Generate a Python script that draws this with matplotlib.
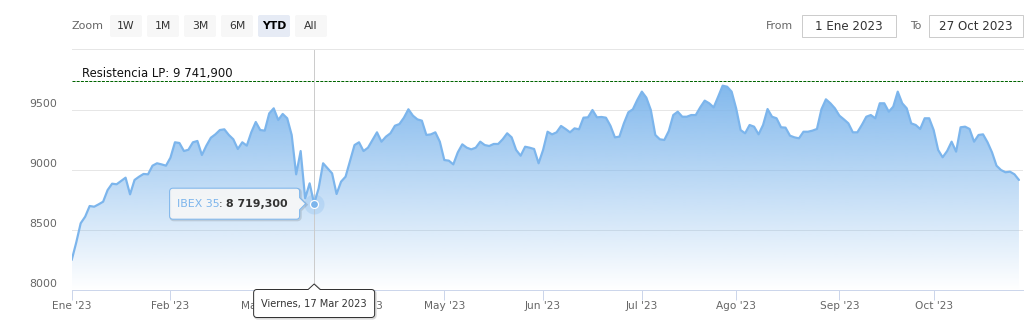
import numpy as np
import pandas as pd
import matplotlib
matplotlib.use("Agg")
import matplotlib.pyplot as plt
from matplotlib.patches import Polygon, FancyBboxPatch

# ---------------- data ----------------
series_name = "IBEX 35"
start_date, end_date = "2023-01-02", "2023-10-27"
market_holidays = ["2023-04-07", "2023-04-10", "2023-05-01"]

close_values = [
    # Jan
    8250, 8394, 8556, 8611, 8700, 8694, 8714, 8736, 8833, 8886, 8881, 8908,
    8936, 8797, 8917, 8944, 8967, 8964, 9036, 9056, 9047, 9036,
    # Feb
    9103, 9231, 9225, 9158, 9169, 9231, 9242, 9125, 9203, 9269, 9297, 9333,
    9339, 9292, 9256, 9175, 9231, 9203, 9314, 9400,
    # Mar
    9333, 9328, 9472, 9514, 9417, 9467, 9431, 9292, 8964, 9158, 8764, 8889,
    8719.3, 8847, 9056, 9014, 8972, 8800, 8903, 8944, 9075, 9208, 9231,
    # Apr
    9158, 9186, 9250, 9314, 9236, 9278, 9306, 9369, 9383, 9436, 9506, 9453,
    9422, 9411, 9292, 9297, 9314, 9236,
    # May
    9083, 9078, 9047, 9147, 9214, 9186, 9172, 9186, 9236, 9208, 9200, 9217,
    9217, 9256, 9306, 9272, 9167, 9119, 9194, 9186, 9175, 9056,
    # Jun
    9167, 9319, 9297, 9314, 9367, 9342, 9314, 9347, 9339, 9436, 9439, 9500,
    9439, 9442, 9436, 9369, 9272, 9278, 9389, 9481, 9506, 9585,
    # Jul
    9653, 9603, 9500, 9292, 9256, 9250, 9325, 9458, 9486, 9444, 9444, 9458,
    9458, 9522, 9578, 9556, 9522, 9611, 9703, 9694, 9653,
    # Aug
    9514, 9333, 9306, 9375, 9361, 9297, 9375, 9508, 9444, 9431, 9356, 9353,
    9286, 9272, 9264, 9319, 9319, 9328, 9342, 9506, 9589, 9556, 9514,
    # Sep
    9453, 9422, 9389, 9314, 9314, 9375, 9444, 9458, 9431, 9556, 9556, 9486,
    9528, 9653, 9556, 9514, 9389, 9375, 9342, 9431, 9431,
    # Oct
    9333, 9167, 9106, 9158, 9236, 9153, 9356, 9361, 9342, 9236, 9292, 9297,
    9231, 9147, 9036, 9000, 8981, 8986, 8964, 8917,
]

month_labels = ["Ene '23", "Feb '23", "Mar '23", "Abr '23", "May '23",
                "Jun '23", "Jul '23", "Ago '23", "Sep '23", "Oct '23"]
y_ticks = [8000, 8500, 9000, 9500]
y_range = (8000, 10000)

resistance_label = "Resistencia LP"
resistance_value = 9741.9

hover_date = "2023-03-17"
hover_date_label = "Viernes, 17 Mar 2023"

range_buttons = ["1W", "1M", "3M", "6M", "YTD", "All"]
selected_button = "YTD"
from_text, to_text = "1 Ene 2023", "27 Oct 2023"

# ---------------- helpers ----------------
W, H = 1032, 328
PT = 0.72  # points per pixel at dpi 100
SERIES_COLOR = "#7cb5ec"


def es_num(v):
    s = f"{v:,.3f}"
    return s.replace(",", " ").replace(".", ",")


def callout(x0, y0, x1, y1, r=3, arrow=None, n=5):
    """pixel coords (y down). arrow=('right', ay, tipx) or ('top', axp, tipy)"""
    pts = []

    def arc(cx, cy, a0, a1):
        for a in np.linspace(a0, a1, n):
            pts.append((cx + r * np.cos(a), cy + r * np.sin(a)))

    # top edge (left to right)
    arc(x0 + r, y0 + r, np.pi, 1.5 * np.pi)
    if arrow and arrow[0] == "top":
        pts += [(arrow[1] - 6, y0), (arrow[1], arrow[2]), (arrow[1] + 6, y0)]
    arc(x1 - r, y0 + r, 1.5 * np.pi, 2 * np.pi)
    if arrow and arrow[0] == "right":
        pts += [(x1, arrow[1] - 6), (arrow[2], arrow[1]), (x1, arrow[1] + 6)]
    arc(x1 - r, y1 - r, 0, 0.5 * np.pi)
    arc(x0 + r, y1 - r, 0.5 * np.pi, np.pi)
    return pts


# ---------------- figure ----------------
plt.rcParams["font.family"] = ["DejaVu Sans"]
fig = plt.figure(figsize=(W / 100, H / 100), dpi=100)
fig.patch.set_facecolor("white")

PL, PR, PT_, PB = 71.7, 1023.0, 50.0, 290.0
ax = fig.add_axes([PL / W, 1 - PB / H, (PR - PL) / W, (PB - PT_) / H])
ov = fig.add_axes([0, 0, 1, 1], zorder=5)
ov.set_xlim(0, W)
ov.set_ylim(H, 0)
ov.axis("off")
ov.patch.set_alpha(0)

dates = pd.bdate_range(start_date, end_date, freq="C", holidays=market_holidays)
values = np.array(close_values, dtype=float)
n = len(values)
idx = np.arange(n)
dates = dates[:n]

ax.set_xlim(0, 211.9)
ax.set_ylim(*y_range)
for s in ["top", "left", "right"]:
    ax.spines[s].set_visible(False)
ax.spines["bottom"].set_color("#ccd6eb")
ax.spines["bottom"].set_linewidth(PT)
ax.set_yticks([])

# grid lines
for yt in y_ticks[1:]:
    ax.axhline(yt, color="#e6e6e6", lw=PT, zorder=0.5)

# area with gradient
poly = ax.fill_between(idx, values, y_range[0], color="none", lw=0)
top_v = values.max()
N = 256
alpha = np.linspace(0.0, 1.0, N)
grad = np.zeros((N, 1, 4))
grad[:, 0, 0] = 124 / 255
grad[:, 0, 1] = 181 / 255
grad[:, 0, 2] = 236 / 255
grad[:, 0, 3] = alpha * 0.95
img = ax.imshow(grad, extent=[0, n - 1, y_range[0], top_v], origin="lower",
                aspect="auto", zorder=1, interpolation="bilinear")
img.set_clip_path(poly.get_paths()[0], ax.transData)
ax.set_xlim(0, 211.9)
ax.set_ylim(*y_range)

ax.plot(idx, values, color=SERIES_COLOR, lw=2.2 * PT, zorder=3,
        solid_joinstyle="round", solid_capstyle="round")

# resistance line
ax.axhline(resistance_value, color="#006400", lw=1.0 * PT, ls=(0, (3, 1.2)), zorder=2)

# x ticks at first trading day of each month
month_first = [int(np.where(dates.month == m)[0][0]) for m in sorted(set(dates.month))]
ax.set_xticks(month_first)
ax.set_xticklabels(month_labels[:len(month_first)])
ax.tick_params(axis="x", length=10 * PT, width=PT, color="#ccd6eb",
               labelsize=7.6, labelcolor="#666666", pad=1.0)

# hover point
hi = int(np.where(dates == pd.Timestamp(hover_date))[0][0])
hv = values[hi]
ax.axvline(hi, color="#cccccc", lw=PT, zorder=2.5)
ax.plot([hi], [hv], "o", ms=20 * PT, color=SERIES_COLOR, alpha=0.25, mew=0, zorder=4)
ax.plot([hi], [hv], "o", ms=8 * PT, mfc=SERIES_COLOR, mec="white", mew=1.2 * PT, zorder=5)

# ---------------- overlay (pixel coords) ----------------
def to_px(x, y):
    d = ax.transData.transform((x, y))
    return d[0], H - d[1]

# y tick labels
for yt in y_ticks:
    _, py = to_px(0, yt)
    ov.text(57, py - 6, str(yt), ha="right", va="center", fontsize=7.9, color="#666666")

# resistance label
_, ry = to_px(0, resistance_value)
ov.text(82, ry - 7.5, f"{resistance_label}: {es_num(resistance_value)}",
        ha="left", va="center", fontsize=8.4, color="#111111")

# top controls
ov.text(72, 26, "Zoom", ha="left", va="center", fontsize=8.0, color="#666666")
bx = 110
for b in range_buttons:
    sel = b == selected_button
    ov.add_patch(FancyBboxPatch((bx, 15), 32, 22, boxstyle="round,pad=0,rounding_size=2",
                                fc="#e6ebf5" if sel else "#f7f7f7", ec="none"))
    ov.text(bx + 16, 26, b, ha="center", va="center", fontsize=7.8,
            color="#000000" if sel else "#333333", fontweight="bold" if sel else "normal")
    bx += 37
ov.plot([72, 1023], [49, 49], color="#e6e6e6", lw=PT)

ov.text(793, 26, "From", ha="right", va="center", fontsize=7.8, color="#666666")
ov.add_patch(FancyBboxPatch((802, 15), 94, 22, boxstyle="square,pad=0", fc="white",
                            ec="#cccccc", lw=PT))
ov.text(849, 26, from_text, ha="center", va="center", fontsize=8.6, color="#333333")
ov.text(921, 26, "To", ha="right", va="center", fontsize=7.8, color="#666666")
ov.add_patch(FancyBboxPatch((929, 15), 94, 22, boxstyle="square,pad=0", fc="white",
                            ec="#cccccc", lw=PT))
ov.text(976, 26, to_text, ha="center", va="center", fontsize=8.6, color="#333333")

# main tooltip
px, py = to_px(hi, hv)
tx1 = px - 14.5
tx0 = tx1 - 130
ty0, ty1 = py - 15.5, py + 15.5
sh = [(x + 1, y + 1) for x, y in callout(tx0, ty0, tx1, ty1, 3, ("right", py, tx1 + 6))]
ov.add_patch(Polygon(sh, closed=True, fc="none", ec=(0, 0, 0, 0.12), lw=2.2 * PT, zorder=6))
ov.add_patch(Polygon(callout(tx0, ty0, tx1, ty1, 3, ("right", py, tx1 + 6)), closed=True,
                     fc=(247 / 255, 247 / 255, 247 / 255, 0.92), ec=SERIES_COLOR, lw=PT, zorder=7))

fig.canvas.draw()
r = fig.canvas.get_renderer()
t1 = ov.text(tx0 + 7, py, series_name, ha="left", va="center", fontsize=7.9,
             color=SERIES_COLOR, zorder=8)
e1 = t1.get_window_extent(r)
t2 = ov.text(e1.x1, py, ": ", ha="left", va="center", fontsize=7.9, color="#333333", zorder=8)
e2 = t2.get_window_extent(r)
ov.text(e2.x1, py, es_num(hv), ha="left", va="center", fontsize=7.9,
        color="#333333", fontweight="bold", zorder=8)

# date label on x axis
dx0, dx1 = px - 60.5, px + 60.5
dy0, dy1 = 289.5, 317.5
sh = [(x + 1, y + 1) for x, y in callout(dx0, dy0, dx1, dy1, 3, ("top", px, dy0 - 5.5))]
ov.add_patch(Polygon(sh, closed=True, fc="none", ec=(0, 0, 0, 0.15), lw=2.2 * PT, zorder=6))
ov.add_patch(Polygon(callout(dx0, dy0, dx1, dy1, 3, ("top", px, dy0 - 5.5)), closed=True,
                     fc="white", ec="#333333", lw=PT, zorder=7))
ov.text(px, (dy0 + dy1) / 2 + 0.5, hover_date_label, ha="center", va="center",
        fontsize=7.1, color="#333333", zorder=8)

fig.savefig("out.png", dpi=100, facecolor="white")
